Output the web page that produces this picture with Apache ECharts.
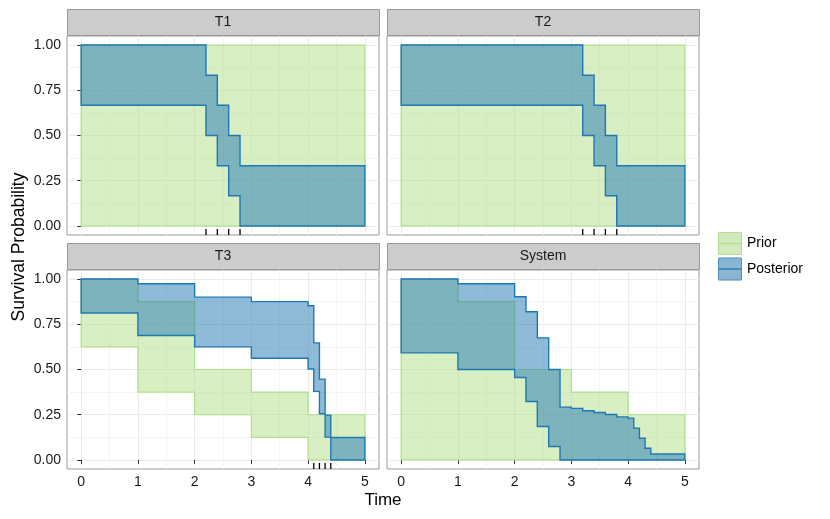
<!DOCTYPE html>
<html><head><meta charset="utf-8">
<script src="https://cdn.jsdelivr.net/npm/echarts@6/dist/echarts.min.js"></script>
<style>html,body{margin:0;padding:0;background:#fff}#c{width:830px;height:519px}</style>
</head><body><div id="c"></div><script>
// ---- tick labels ----
const xTicks = [0, 1, 2, 3, 4, 5];
const xMinorTicks = [0.5, 1.5, 2.5, 3.5, 4.5];
const yTicks = [0, 0.25, 0.5, 0.75, 1];
const yMinorTicks = [0.125, 0.375, 0.625, 0.875];
const panelNames = ['T1', 'T2', 'T3', 'System'];
const legendLabels = ['Prior', 'Posterior'];

// ---- T1 ----
const priorBreaksT1 = [0, 5];
const priorUpperT1 = [1];
const priorLowerT1 = [0];
const postBreaksT1 = [0, 2.2, 2.4, 2.6, 2.8, 5];
const postUpperT1 = [1, 0.833, 0.667, 0.5, 0.333];
const postLowerT1 = [0.667, 0.5, 0.333, 0.167, 0];
const failuresT1 = [2.2, 2.4, 2.6, 2.8];

// ---- T2 ----
const priorBreaksT2 = [0, 5];
const priorUpperT2 = [1];
const priorLowerT2 = [0];
const postBreaksT2 = [0, 3.2, 3.4, 3.6, 3.8, 5];
const postUpperT2 = [1, 0.833, 0.667, 0.5, 0.333];
const postLowerT2 = [0.667, 0.5, 0.333, 0.167, 0];
const failuresT2 = [3.2, 3.4, 3.6, 3.8];

// ---- T3 ----
const priorBreaksT3 = [0, 1, 2, 3, 4, 5];
const priorUpperT3 = [1, 0.875, 0.5, 0.375, 0.25];
const priorLowerT3 = [0.625, 0.375, 0.25, 0.125, 0];
const postBreaksT3 = [0, 1, 2, 3, 4, 4.1, 4.2, 4.3, 4.4, 5];
const postUpperT3 = [1, 0.974, 0.9, 0.875, 0.852, 0.647, 0.447, 0.248, 0.124];
const postLowerT3 = [0.812, 0.688, 0.625, 0.562, 0.503, 0.379, 0.255, 0.126, 0];
const failuresT3 = [4.1, 4.2, 4.3, 4.4];

// ---- System ----
const priorBreaksSys = [0, 1, 2, 3, 4, 5];
const priorUpperSys = [1, 0.875, 0.5, 0.375, 0.25];
const priorLowerSys = [0, 0, 0, 0, 0];
const postBreaksSys = [0, 1, 2, 2.2, 2.4, 2.6, 2.8, 3, 3.2, 3.4, 3.6, 3.8, 4, 4.1, 4.2, 4.3, 4.4, 5];
const postUpperSys = [1, 0.974, 0.902, 0.819, 0.675, 0.5, 0.292, 0.285, 0.272, 0.262, 0.251, 0.238, 0.231, 0.176, 0.12, 0.065, 0.033];
const postLowerSys = [0.592, 0.5, 0.456, 0.323, 0.185, 0.074, 0, 0, 0, 0, 0, 0, 0, 0, 0, 0, 0];
const failuresSys = [];

const panelData = [
  {prior: [priorBreaksT1, priorLowerT1, priorUpperT1], post: [postBreaksT1, postLowerT1, postUpperT1], rug: failuresT1},
  {prior: [priorBreaksT2, priorLowerT2, priorUpperT2], post: [postBreaksT2, postLowerT2, postUpperT2], rug: failuresT2},
  {prior: [priorBreaksT3, priorLowerT3, priorUpperT3], post: [postBreaksT3, postLowerT3, postUpperT3], rug: failuresT3},
  {prior: [priorBreaksSys, priorLowerSys, priorUpperSys], post: [postBreaksSys, postLowerSys, postUpperSys], rug: failuresSys}
];

// ---- layout & style ----
const X_MIN = -0.25, X_MAX = 5.25, Y_MIN = -0.05, Y_MAX = 1.05;
const layout = [
  {left: 67, top: 36, showX: false, showY: true},
  {left: 387, top: 36, showX: false, showY: false},
  {left: 67, top: 270, showX: true, showY: true},
  {left: 387, top: 270, showX: true, showY: false}
];
const PW = 312, PH = 199, STRIP_H = 27;
const FONT = 'Liberation Sans, Arial, sans-serif';
const priorFill = 'rgba(178,223,138,0.5)', priorStroke = '#b2df8a';
const postFill = 'rgba(31,120,180,0.5)', postStroke = '#1f78b4';
const borderCol = '#999999';

const grids = [], xAxes = [], yAxes = [], series = [], graphics = [];

function band(g, breaks, lower, upper, fill, stroke, lw, z) {
  const rows = lower.map((l, i) => [breaks[i], l, upper[i], breaks[i + 1]]);
  return {
    type: 'custom', xAxisIndex: 2 * g, yAxisIndex: 2 * g, z: z, silent: true,
    data: rows,
    renderItem: function (params, api) {
      if (params.dataIndex !== 0) return null;
      const pts = [];
      for (let i = 0; i < upper.length; i++) {
        pts.push(api.coord([breaks[i], upper[i]]));
        pts.push(api.coord([breaks[i + 1], upper[i]]));
      }
      for (let i = lower.length - 1; i >= 0; i--) {
        pts.push(api.coord([breaks[i + 1], lower[i]]));
        pts.push(api.coord([breaks[i], lower[i]]));
      }
      return {type: 'polygon', shape: {points: pts}, style: {fill: fill, stroke: stroke, lineWidth: lw, lineJoin: 'miter'}};
    }
  };
}
function rug(g, times) {
  return {
    type: 'custom', xAxisIndex: 2 * g, yAxisIndex: 2 * g, z: 6, silent: true,
    data: times.map(t => [t]),
    renderItem: function (params, api) {
      const p = api.coord([api.value(0), Y_MIN]);
      return {type: 'line', shape: {x1: p[0], y1: p[1], x2: p[0], y2: p[1] - 6}, style: {stroke: '#000', lineWidth: 1.3}};
    }
  };
}

layout.forEach((L, g) => {
  grids.push({left: L.left, top: L.top, width: PW, height: PH, show: true, backgroundColor: '#fff', borderColor: borderCol, borderWidth: 1, containLabel: false});
  xAxes.push({
    gridIndex: g, type: 'value', min: X_MIN, max: X_MAX, position: 'bottom',
    axisLine: {show: false},
    axisTick: {show: L.showX, length: 4, customValues: xTicks, lineStyle: {color: '#333', width: 1}},
    axisLabel: {show: L.showX, customValues: xTicks, margin: 6, fontSize: 14, color: '#1a1a1a', fontFamily: FONT, formatter: v => String(v)},
    splitLine: {show: true, lineStyle: {color: '#ebebeb', width: 1}}
  });
  xAxes.push({
    gridIndex: g, type: 'value', min: X_MIN, max: X_MAX, position: 'top',
    axisLine: {show: false},
    axisTick: {show: false, customValues: xMinorTicks},
    axisLabel: {show: false, customValues: xMinorTicks},
    splitLine: {show: true, lineStyle: {color: '#f5f5f5', width: 1}}
  });
  yAxes.push({
    gridIndex: g, type: 'value', min: Y_MIN, max: Y_MAX, position: 'left',
    axisLine: {show: false},
    axisTick: {show: L.showY, length: 4, customValues: yTicks, lineStyle: {color: '#333', width: 1}},
    axisLabel: {show: L.showY, customValues: yTicks, margin: 6, fontSize: 14, color: '#1a1a1a', fontFamily: FONT, formatter: v => v.toFixed(2)},
    splitLine: {show: true, lineStyle: {color: '#ebebeb', width: 1}}
  });
  yAxes.push({
    gridIndex: g, type: 'value', min: Y_MIN, max: Y_MAX, position: 'right',
    axisLine: {show: false},
    axisTick: {show: false, customValues: yMinorTicks},
    axisLabel: {show: false, customValues: yMinorTicks},
    splitLine: {show: true, lineStyle: {color: '#f5f5f5', width: 1}}
  });
  const d = panelData[g];
  series.push(band(g, d.prior[0], d.prior[1], d.prior[2], priorFill, priorStroke, 1.2, 2));
  series.push(band(g, d.post[0], d.post[1], d.post[2], postFill, postStroke, 1.4, 3));
  if (d.rug.length) series.push(rug(g, d.rug));
  // strip
  graphics.push({type: 'rect', shape: {x: L.left + 0.5, y: L.top - STRIP_H + 0.5, width: PW, height: STRIP_H - 1}, style: {fill: '#cccccc', stroke: borderCol, lineWidth: 1}, z: 10});
  graphics.push({type: 'text', x: L.left + PW / 2, y: L.top - STRIP_H / 2, style: {text: panelNames[g], fill: '#1a1a1a', font: '14px ' + FONT, textAlign: 'center', textVerticalAlign: 'middle'}, z: 11});
});

// axis titles
graphics.push({type: 'text', x: 383, y: 500, style: {text: 'Time', fill: '#000', font: '17px ' + FONT, textAlign: 'center', textVerticalAlign: 'middle'}});
graphics.push({type: 'text', x: 19, y: 247, rotation: Math.PI / 2, style: {text: 'Survival Probability', fill: '#000', font: '17.5px ' + FONT, textAlign: 'center', textVerticalAlign: 'middle'}});

// legend
const legKeys = [
  {fill: 'rgba(178,223,138,0.5)', stroke: '#b8dc98', line: '#b2df8a'},
  {fill: 'rgba(31,120,180,0.5)', stroke: '#4f8fbf', line: '#1f78b4'}
];
legKeys.forEach((k, i) => {
  const y0 = 231 + i * 25.5;
  graphics.push({type: 'rect', shape: {x: 717.5, y: y0 + 0.5, width: 25, height: 24}, style: {fill: '#f2f2f2', stroke: '#fff', lineWidth: 1}});
  graphics.push({type: 'rect', shape: {x: 718.5, y: y0 + 1.5, width: 23, height: 22}, style: {fill: k.fill, stroke: k.stroke, lineWidth: 1}});
  graphics.push({type: 'line', shape: {x1: 719, y1: y0 + 12.5, x2: 741, y2: y0 + 12.5}, style: {stroke: k.line, lineWidth: 1.3}});
  graphics.push({type: 'text', x: 747, y: y0 + 12.5, style: {text: legendLabels[i], fill: '#000', font: '14px ' + FONT, textAlign: 'left', textVerticalAlign: 'middle'}});
});

const chart = echarts.init(document.getElementById('c'), null, {renderer: 'canvas'});
chart.setOption({
  animation: false,
  backgroundColor: '#fff',
  grid: grids, xAxis: xAxes, yAxis: yAxes, series: series, graphic: graphics
});
</script></body></html>
